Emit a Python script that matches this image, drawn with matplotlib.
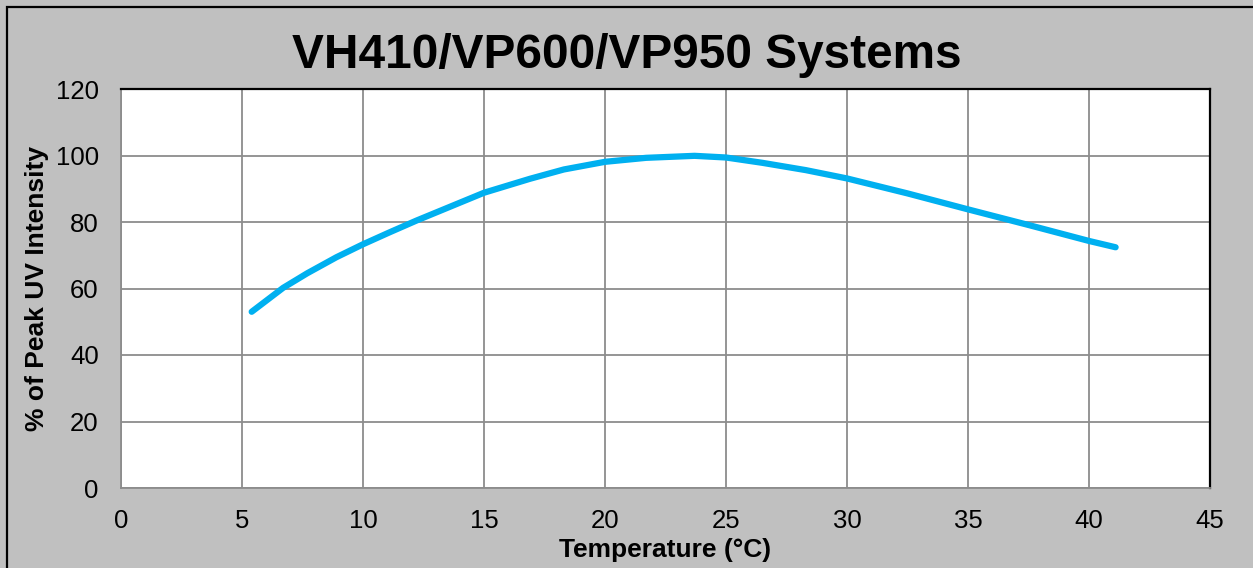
import numpy as np
import matplotlib
matplotlib.use('Agg')
import matplotlib.pyplot as plt
from matplotlib.patches import Rectangle

plt.rcParams['font.family'] = ['Liberation Sans', 'DejaVu Sans']

temp_c = [5.4, 6.7, 7.7, 8.9, 10, 11.1, 12.2, 13.5, 15, 16.9, 18.3, 20, 21.7, 23.7,
          25, 26.5, 28.3, 30, 32.5, 35, 37.5, 40, 41.1]
pct_peak = [53.0, 60.2, 64.6, 69.4, 73.3, 76.9, 80.4, 84.3, 88.8, 93.0, 95.8, 98.1, 99.3, 99.9,
            99.4, 97.8, 95.6, 93.1, 88.6, 83.8, 79.1, 74.3, 72.4]
x_ticks = [0, 5, 10, 15, 20, 25, 30, 35, 40, 45]
y_ticks = [0, 20, 40, 60, 80, 100, 120]

W, H = 1253, 568
fig = plt.figure(figsize=(W / 100, H / 100), dpi=100)
fig.patch.set_facecolor('#c0c0c0')
# outer chart border
fig.patches.append(Rectangle((7 / W, -0.1), 1.2, 1 - 7 / H + 0.1, transform=fig.transFigure,
                             fill=False, edgecolor='black', lw=1.6, zorder=0))

ax = fig.add_axes([121 / W, 1 - 488 / H, (1210 - 121) / W, (488 - 89) / H])
ax.set_facecolor('white')
ax.plot(temp_c, pct_peak, color='#00b0f0', lw=4.5, solid_capstyle='round', solid_joinstyle='round', zorder=3)

ax.set_xlim(0, 45)
ax.set_ylim(0, 120)
ax.set_xticks(x_ticks)
ax.set_yticks(y_ticks)
ax.tick_params(length=0, labelsize=18.5)
ax.tick_params(axis='x', pad=15)
ax.tick_params(axis='y', pad=16)
ax.grid(True, color='#8c8c8c', lw=1.3)
ax.set_axisbelow(True)
for side in ['left', 'bottom']:
    ax.spines[side].set_color('#8c8c8c')
    ax.spines[side].set_linewidth(1.3)
for side in ['top', 'right']:
    ax.spines[side].set_color('black')
    ax.spines[side].set_linewidth(1.6)

ax.set_xlabel('Temperature (°C)', fontsize=19, fontweight='bold', va='center')
ax.set_ylabel('% of Peak UV Intensity', fontsize=19, fontweight='bold', va='center')
ax.xaxis.set_label_coords(0.5, (488 - 550) / 399)
ax.yaxis.set_label_coords((37 - 121) / 1089, 0.5)
fig.text(0.5, 1 - 55 / H, 'VH410/VP600/VP950 Systems', ha='center', va='center',
         fontsize=34.4, fontweight='bold')

fig.savefig('out.png', dpi=100, facecolor=fig.get_facecolor())
